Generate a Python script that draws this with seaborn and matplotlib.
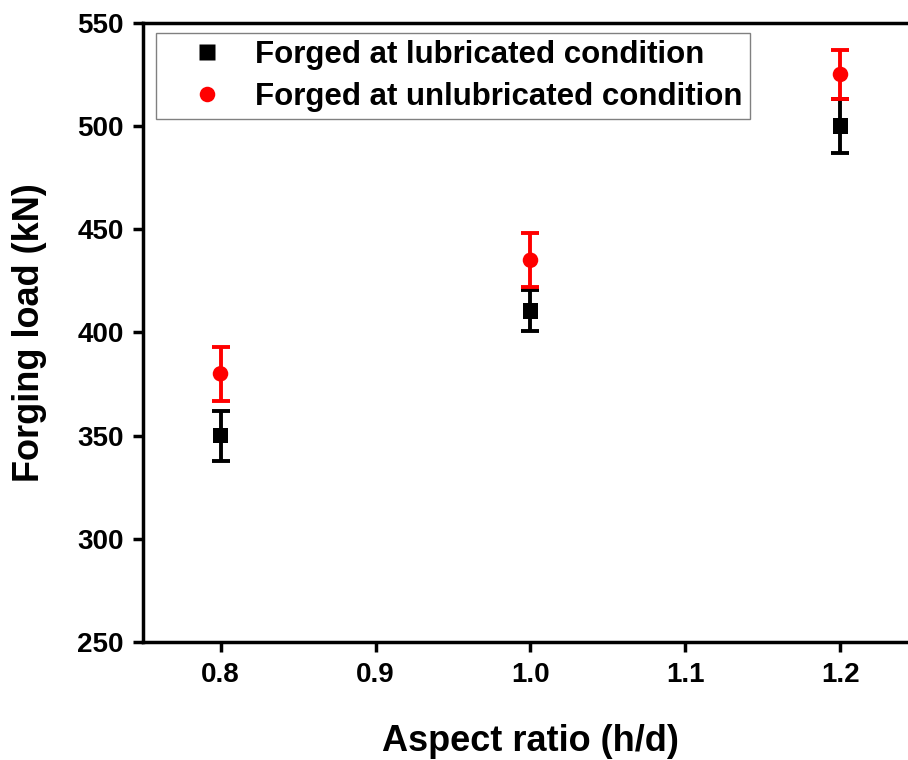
import numpy as np
import pandas as pd
import matplotlib
matplotlib.use('Agg')
import matplotlib.pyplot as plt
import seaborn as sns

aspect = [0.8, 1.0, 1.2]
load_lub = [350, 410.5, 500]
err_lub = [12, 10, 13]
load_unlub = [380, 435, 525]
err_unlub = [13, 13, 12]

lab_lub = 'Forged at lubricated condition'
lab_unlub = 'Forged at unlubricated condition'

df = pd.DataFrame({
    'Aspect ratio': aspect * 2,
    'Load': load_lub + load_unlub,
    'Err': err_lub + err_unlub,
    'Condition': [lab_lub] * 3 + [lab_unlub] * 3,
})

sns.set_style('ticks')
plt.rcParams['font.family'] = ['Liberation Sans', 'DejaVu Sans']
plt.rcParams['font.weight'] = 'bold'
plt.rcParams['text.color'] = 'black'
plt.rcParams['axes.labelcolor'] = 'black'
plt.rcParams['xtick.color'] = 'black'
plt.rcParams['ytick.color'] = 'black'
plt.rcParams['axes.edgecolor'] = 'black'

fig = plt.figure(figsize=(9.08, 7.6), dpi=100)
ax = fig.add_axes([0.1575, 0.155, 1.011 - 0.1575, 0.970 - 0.155])

cores = {lab_lub: 'black', lab_unlub: '#ff0000'}
marcas = {lab_lub: 's', lab_unlub: 'o'}

for cond in [lab_lub, lab_unlub]:
    sub = df[df['Condition'] == cond]
    ax.errorbar(sub['Aspect ratio'], sub['Load'], yerr=sub['Err'], fmt='none',
                ecolor=cores[cond], elinewidth=2.8, capsize=6.5, capthick=2.8, zorder=2)

sns.scatterplot(data=df, x='Aspect ratio', y='Load', hue='Condition', style='Condition',
                palette=cores, markers=marcas, s=125, edgecolor='none', ax=ax, zorder=3)

ax.set_xlim(0.75, 1.25)
ax.set_ylim(250, 550)
ax.set_xticks([0.8, 0.9, 1.0, 1.1, 1.2])
ax.set_yticks(np.arange(250, 551, 50))
ax.set_xticklabels(['0.8', '0.9', '1.0', '1.1', '1.2'])

ax.set_xlabel('Aspect ratio (h/d)', fontsize=26, fontweight='bold', labelpad=26)
ax.set_ylabel('Forging load (kN)', fontsize=26, fontweight='bold', labelpad=22)
ax.tick_params(axis='both', which='major', direction='out', length=7, width=2.5,
               labelsize=20, pad=7)
for lbl in ax.get_xticklabels() + ax.get_yticklabels():
    lbl.set_fontweight('bold')

for sp in ax.spines.values():
    sp.set_linewidth(2.5)
    sp.set_visible(True)

leg = ax.legend(loc='upper left', bbox_to_anchor=(0.017, 0.984), borderaxespad=0,
                fontsize=22.5, frameon=True, fancybox=False, framealpha=1,
                edgecolor='gray', handlelength=2.8, handletextpad=0.15,
                borderpad=0.22, labelspacing=0.4, markerscale=1.0)
leg.get_frame().set_linewidth(1.0)
for t in leg.get_texts():
    t.set_fontweight('bold')

plt.savefig('out.png', dpi=100)
